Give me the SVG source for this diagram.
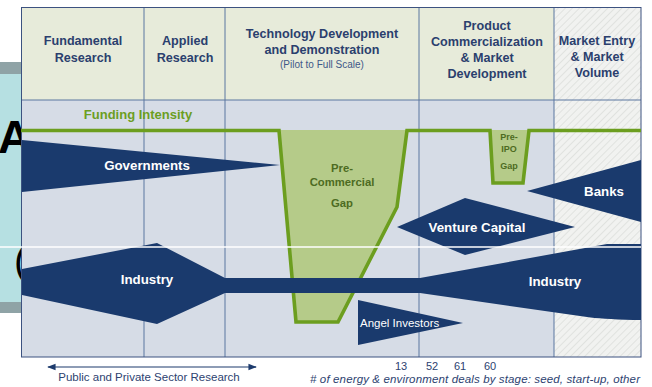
<svg xmlns="http://www.w3.org/2000/svg" width="652" height="387" viewBox="0 0 652 387">
<defs>
<pattern id="hatch" width="5" height="5" patternUnits="userSpaceOnUse" patternTransform="rotate(45)">
<rect width="5" height="5" fill="#f1f2f0"/>
<line x1="0" y1="0" x2="0" y2="5" stroke="#d9dbd8" stroke-width="1.4"/>
</pattern>
<marker id="arr" viewBox="0 0 10 10" refX="9" refY="5" markerWidth="7" markerHeight="7" orient="auto-start-reverse">
<path d="M0,1 L10,5 L0,9 Z" fill="#1d3b6d"/>
</marker>
<style>
.hdr{font-family:"Liberation Sans",Arial,sans-serif;font-weight:bold;font-size:12.6px;fill:#2b3f6e;text-anchor:middle}
.sub{font-family:"Liberation Sans",Arial,sans-serif;font-size:10px;fill:#3e5888;text-anchor:middle}
.wt{font-family:"Liberation Sans",Arial,sans-serif;font-weight:bold;font-size:13.3px;fill:#ffffff;text-anchor:middle}
.gap{font-family:"Liberation Sans",Arial,sans-serif;font-weight:bold;font-size:11.3px;fill:#4d6b22;text-anchor:middle}
.gap2{font-family:"Liberation Sans",Arial,sans-serif;font-weight:bold;font-size:9px;fill:#4d6b22;text-anchor:middle}
.ft{font-family:"Liberation Sans",Arial,sans-serif;font-size:11.5px;fill:#2d4270}
.num{font-family:"Liberation Sans",Arial,sans-serif;font-size:11px;fill:#2d4270;text-anchor:middle}
.navy{fill:#1a3a6d}
.col{stroke:#5b76a0;stroke-width:1;fill:none}
.gfill{fill:#b5cb89}
.gline{fill:none;stroke:#6c9e1f;stroke-width:3.6;stroke-linejoin:miter}
</style>
</defs>
<rect width="652" height="387" fill="#ffffff"/>
<g id="background-slide">
<rect x="0" y="62" width="22" height="12" fill="#8fa3a6"/>
<rect x="0" y="74" width="22" height="228" fill="#b6e0e2"/>
<rect x="0" y="302" width="22" height="11" fill="#8fa3a6"/>
<text x="-2" y="153" font-family="Liberation Sans, Arial, sans-serif" font-weight="bold" font-size="46" fill="#000">A</text>
<text x="14" y="275" font-family="Liberation Sans, Arial, sans-serif" font-size="40" fill="#000">(</text>
</g>
<g id="chart-frame">
<rect x="21" y="7" width="533" height="93" fill="#e7ebda"/>
<rect x="21" y="100" width="533" height="257" fill="#d6dce6"/>
<rect x="554" y="7" width="87" height="350" fill="url(#hatch)"/>
<line class="col" x1="144" y1="7" x2="144" y2="357"/>
<line class="col" x1="225" y1="7" x2="225" y2="357"/>
<line class="col" x1="419" y1="7" x2="419" y2="357"/>
<line class="col" x1="554" y1="7" x2="554" y2="357"/>
<line x1="21" y1="100" x2="641" y2="100" stroke="#5b76a0" stroke-width="1"/>
<rect x="21.5" y="7.5" width="619.5" height="349.5" fill="none" stroke="#3c5280" stroke-width="1"/>
</g>
<g id="headers">
<text class="hdr" x="83" y="45">Fundamental</text>
<text class="hdr" x="83" y="62">Research</text>
<text class="hdr" x="185" y="45">Applied</text>
<text class="hdr" x="185" y="62">Research</text>
<text class="hdr" x="322" y="38">Technology Development</text>
<text class="hdr" x="322" y="54">and Demonstration</text>
<text class="sub" x="322" y="68">(Pilot to Full Scale)</text>
<text class="hdr" x="487" y="30">Product</text>
<text class="hdr" x="487" y="46">Commercialization</text>
<text class="hdr" x="487" y="62">&amp; Market</text>
<text class="hdr" x="487" y="78">Development</text>
<text class="hdr" x="597" y="45">Market Entry</text>
<text class="hdr" x="597" y="61">&amp; Market</text>
<text class="hdr" x="597" y="77">Volume</text>
<text x="138" y="119" font-family="Liberation Sans, Arial, sans-serif" font-weight="bold" font-size="13px" fill="#6c9e1f" text-anchor="middle">Funding Intensity</text>
</g>
<g id="pre-commercial-gap">
<polygon class="gfill" points="279,130 296,322 338,322 397,207 407,130"/>
<text class="gap" x="342" y="172">Pre-</text>
<text class="gap" x="342" y="186">Commercial</text>
<text class="gap" x="342" y="207">Gap</text>
</g>
<g id="pre-ipo-gap">
<polygon class="gfill" points="490,130 493,183 523,183 529,130"/>
<text class="gap2" x="509" y="140">Pre-</text>
<text class="gap2" x="509" y="152">IPO</text>
<text class="gap2" x="509" y="169">Gap</text>
</g>
<g id="connectors">
<path class="gline" d="M21,130.5 H279 L296,322 H338 L397,207 L407,130.5 H490 L493,183 H523 L529,130.5 H641"/>
<line x1="48" y1="367" x2="256" y2="367" stroke="#1d3b6d" stroke-width="1.2" marker-start="url(#arr)" marker-end="url(#arr)"/>
</g>
<g id="governments">
<polygon class="navy" points="22,140 280,165 22,192"/>
<text class="wt" x="147" y="170">Governments</text>
</g>
<g id="industry">
<path class="navy" d="M22,269 L157,243 L225,278 H420 L607,244 H641 V320 H633 Q600,319 587,317 L420,293 H225 L157,324 L22,295 Z"/>
<text class="wt" x="147" y="284">Industry</text>
<text class="wt" x="555" y="286">Industry</text>
</g>
<g id="venture-capital">
<polygon class="navy" points="397,227 465,198 575,227 465,255"/>
<text class="wt" x="477" y="232">Venture Capital</text>
</g>
<g id="banks">
<polygon class="navy" points="527,191 641,160 641,222"/>
<text class="wt" x="604" y="196">Banks</text>
</g>
<g id="angel-investors">
<polygon class="navy" points="358,300 463,323 358,345"/>
<text x="360" y="327" font-family="Liberation Sans, Arial, sans-serif" font-size="11.5px" fill="#ffffff">Angel Investors</text>
</g>
<line x1="0" y1="247" x2="641" y2="247" stroke="#ffffff" stroke-width="1.5"/>
<g id="footer">
<text class="ft" x="149" y="381" text-anchor="middle">Public and Private Sector Research</text>
<text class="num" x="401" y="370">13</text>
<text class="num" x="432" y="370">52</text>
<text class="num" x="460" y="370">61</text>
<text class="num" x="490" y="370">60</text>
<text class="ft" x="310" y="383" font-style="italic" textLength="330" lengthAdjust="spacing"># of energy &amp; environment deals by stage: seed, start-up, other</text>
</g>
</svg>
